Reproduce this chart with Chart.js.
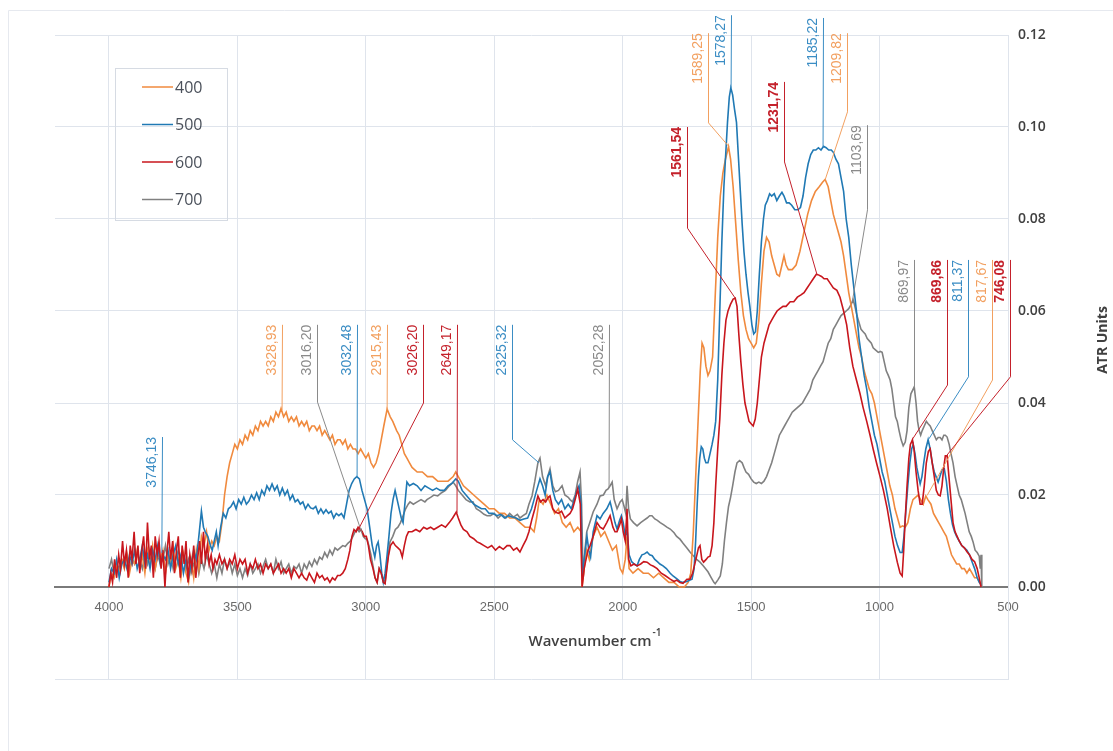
<!DOCTYPE html>
<html>
<head>
<meta charset="utf-8">
<script src="https://cdn.jsdelivr.net/npm/chart.js@4.4.0/dist/chart.umd.min.js"></script>
<style>
    html, body { margin: 0; padding: 0; background: #ffffff; }
    canvas { display: block; }
</style>
</head>
<body>
<canvas id="spectrumChart" width="1113" height="751"></canvas>
<script>
// wavenumber (cm-1), ATR units
const seriesNames = ['400', '500', '600', '700'];
const seriesColors = ['#F08A3E', '#2079B4', '#C8161D', '#808080'];
const xTicks = [4000, 3500, 3000, 2500, 2000, 1500, 1000, 500];
const yTicks = [0.00, 0.02, 0.04, 0.06, 0.08, 0.10, 0.12];

const s400 = [
    [4000,0.000],[3990,0.003],[3980,0.002],[3970,0.005],[3960,0.003],[3950,0.006],[3940,0.004],[3930,0.007],[3920,0.003],[3910,0.006],
    [3900,0.005],[3890,0.008],[3880,0.004],[3870,0.007],[3860,0.003],[3850,0.008],[3840,0.005],[3830,0.009],[3820,0.004],[3810,0.007],
    [3800,0.006],[3790,0.008],[3780,0.003],[3770,0.007],[3760,0.005],[3750,0.009],[3740,0.004],[3730,0.006],[3720,0.002],[3710,0.007],
    [3700,0.003],[3690,0.001],[3680,0.006],[3670,0.002],[3660,0.008],[3650,0.004],[3640,0.011],[3630,0.009],[3620,0.012],[3610,0.008],
    [3600,0.010],[3590,0.009],[3580,0.011],[3570,0.010],[3560,0.014],[3550,0.020],[3540,0.024],[3530,0.027],[3520,0.029],[3510,0.031],
    [3500,0.030],[3490,0.032],[3480,0.031],[3470,0.033],[3460,0.032],[3450,0.034],[3440,0.033],[3430,0.035],[3420,0.034],[3410,0.036],
    [3400,0.035],[3390,0.036],[3380,0.035],[3370,0.037],[3360,0.036],[3350,0.038],[3340,0.037],[3330,0.0388],[3320,0.037],[3310,0.038],
    [3300,0.036],[3290,0.037],[3280,0.036],[3270,0.037],[3260,0.035],[3250,0.036],[3240,0.035],[3230,0.036],[3220,0.034],[3210,0.035],
    [3200,0.035],[3190,0.034],[3180,0.035],[3170,0.033],[3160,0.034],[3150,0.033],[3140,0.032],[3130,0.033],[3120,0.031],[3110,0.032],
    [3100,0.032],[3090,0.031],[3080,0.032],[3070,0.030],[3060,0.031],[3050,0.030],[3040,0.030],[3030,0.029],[3020,0.030],[3010,0.029],
    [3000,0.028],[2990,0.029],[2980,0.027],[2970,0.026],[2960,0.027],[2950,0.029],[2940,0.032],[2930,0.035],[2917,0.0387],[2905,0.037],
    [2895,0.036],[2880,0.034],[2870,0.033],[2860,0.031],[2850,0.029],[2840,0.028],[2830,0.027],[2820,0.026],[2800,0.025],[2780,0.025],
    [2760,0.024],[2740,0.024],[2720,0.023],[2700,0.023],[2680,0.023],[2660,0.024],[2650,0.025],[2640,0.024],[2620,0.022],[2600,0.021],
    [2580,0.020],[2560,0.019],[2540,0.018],[2520,0.017],[2500,0.017],[2480,0.016],[2460,0.016],[2440,0.015],[2420,0.015],[2400,0.014],
    [2380,0.013],[2360,0.013],[2345,0.012],[2335,0.015],[2325,0.019],[2310,0.018],[2295,0.020],[2280,0.018],[2265,0.016],[2250,0.017],
    [2235,0.014],[2220,0.013],[2205,0.014],[2190,0.012],[2175,0.013],[2162,0.012],[2158,0.000],[2150,0.004],[2140,0.008],[2130,0.006],
    [2115,0.011],[2100,0.013],[2085,0.011],[2070,0.012],[2055,0.010],[2040,0.008],[2025,0.009],[2010,0.004],[2000,0.003],[1990,0.006],
    [1983,0.011],[1975,0.004],[1960,0.003],[1940,0.004],[1920,0.003],[1900,0.003],[1880,0.002],[1860,0.003],[1840,0.002],[1820,0.001],
    [1800,0.001],[1780,0.000],[1760,0.000],[1745,0.001],[1735,0.003],[1725,0.012],[1715,0.025],[1705,0.038],[1698,0.047],[1691,0.053],
    [1684,0.052],[1676,0.048],[1668,0.046],[1660,0.047],[1650,0.050],[1640,0.063],[1630,0.076],[1620,0.085],[1610,0.090],[1600,0.093],
    [1588,0.0957],[1580,0.093],[1570,0.087],[1560,0.079],[1550,0.071],[1540,0.064],[1530,0.059],[1520,0.056],[1510,0.054],[1500,0.053],
    [1490,0.052],[1480,0.053],[1470,0.058],[1460,0.066],[1450,0.073],[1440,0.076],[1430,0.075],[1420,0.072],[1410,0.070],[1400,0.068],
    [1390,0.0676],[1380,0.070],[1372,0.072],[1364,0.070],[1355,0.069],[1340,0.069],[1325,0.070],[1310,0.073],[1295,0.077],[1280,0.081],
    [1265,0.084],[1250,0.086],[1235,0.087],[1222,0.088],[1212,0.0886],[1200,0.087],[1190,0.084],[1180,0.081],[1170,0.079],[1160,0.077],
    [1150,0.075],[1140,0.072],[1130,0.068],[1120,0.064],[1110,0.061],[1100,0.058],[1090,0.055],[1080,0.052],[1070,0.050],[1060,0.047],
    [1050,0.045],[1040,0.043],[1030,0.042],[1020,0.040],[1010,0.037],[1000,0.034],[990,0.031],[980,0.028],[970,0.025],[960,0.022],
    [950,0.020],[940,0.017],[930,0.015],[920,0.013],[910,0.0133],[900,0.013],[890,0.014],[880,0.017],[870,0.019],[860,0.0195],
    [850,0.020],[840,0.019],[830,0.018],[820,0.0198],[812,0.019],[800,0.018],[790,0.016],[780,0.015],[770,0.014],[760,0.013],
    [750,0.012],[740,0.011],[730,0.009],[720,0.007],[710,0.006],[700,0.005],[690,0.005],[680,0.004],[670,0.004],[660,0.003],
    [650,0.004],[640,0.003],[630,0.002],[620,0.002],[610,0.001]
];

const s500 = [
    [4000,0.001],[3990,0.004],[3980,0.003],[3970,0.006],[3960,0.002],[3950,0.005],[3940,0.006],[3930,0.004],[3920,0.007],[3910,0.005],
    [3900,0.008],[3890,0.004],[3880,0.006],[3870,0.009],[3860,0.005],[3850,0.007],[3840,0.004],[3830,0.008],[3820,0.006],[3810,0.009],
    [3800,0.005],[3790,0.007],[3780,0.006],[3770,0.008],[3760,0.004],[3750,0.007],[3740,0.009],[3730,0.005],[3720,0.007],[3710,0.003],
    [3700,0.006],[3690,0.002],[3680,0.005],[3670,0.008],[3660,0.006],[3650,0.011],[3640,0.0165],[3632,0.013],[3625,0.012],[3615,0.011],
    [3605,0.009],[3598,0.008],[3590,0.010],[3582,0.012],[3575,0.009],[3565,0.013],[3555,0.016],[3545,0.015],[3535,0.017],[3525,0.0175],
    [3515,0.0185],[3505,0.017],[3495,0.019],[3485,0.018],[3475,0.0195],[3465,0.018],[3455,0.0187],[3445,0.020],[3435,0.019],[3425,0.0205],
    [3415,0.019],[3405,0.021],[3395,0.020],[3385,0.022],[3375,0.021],[3365,0.0224],[3355,0.021],[3345,0.022],[3335,0.020],[3325,0.0215],
    [3315,0.020],[3305,0.021],[3295,0.019],[3285,0.020],[3275,0.0185],[3265,0.019],[3255,0.018],[3245,0.0185],[3235,0.017],[3225,0.018],
    [3215,0.0172],[3205,0.017],[3195,0.0175],[3185,0.016],[3175,0.017],[3165,0.016],[3155,0.0168],[3145,0.016],[3135,0.0165],[3125,0.015],
    [3115,0.016],[3105,0.0155],[3095,0.016],[3085,0.015],[3075,0.018],[3065,0.021],[3055,0.0225],[3045,0.0235],[3035,0.024],[3025,0.0235],
    [3015,0.021],[3005,0.019],[2995,0.017],[2985,0.013],[2975,0.009],[2965,0.0065],[2958,0.009],[2952,0.0098],[2945,0.007],[2938,0.003],
    [2932,0.001],[2925,0.003],[2918,0.0065],[2910,0.011],[2902,0.016],[2894,0.019],[2886,0.021],[2878,0.019],[2870,0.017],[2862,0.015],
    [2855,0.014],[2848,0.018],[2840,0.0228],[2830,0.022],[2815,0.0225],[2800,0.022],[2785,0.021],[2770,0.022],[2755,0.0215],[2740,0.021],
    [2725,0.0215],[2710,0.021],[2695,0.021],[2680,0.022],[2665,0.0225],[2650,0.0235],[2640,0.023],[2625,0.021],[2610,0.020],[2595,0.019],
    [2580,0.018],[2565,0.0175],[2550,0.017],[2535,0.017],[2520,0.016],[2505,0.016],[2490,0.0155],[2475,0.0158],[2460,0.015],[2445,0.0155],
    [2430,0.0152],[2415,0.015],[2400,0.0145],[2385,0.0148],[2370,0.015],[2355,0.017],[2345,0.019],[2335,0.021],[2322,0.0235],[2312,0.022],
    [2302,0.020],[2292,0.024],[2283,0.025],[2272,0.021],[2262,0.019],[2250,0.018],[2238,0.019],[2225,0.017],[2212,0.018],[2200,0.017],
    [2188,0.019],[2178,0.021],[2170,0.022],[2162,0.018],[2158,0.0025],[2150,0.006],[2139,0.011],[2132,0.008],[2125,0.0065],[2115,0.012],
    [2100,0.0155],[2088,0.0148],[2076,0.016],[2062,0.017],[2049,0.0185],[2038,0.016],[2030,0.014],[2022,0.0126],[2012,0.0145],[2005,0.0155],
    [1998,0.014],[1990,0.011],[1983,0.0125],[1975,0.007],[1965,0.0055],[1955,0.005],[1944,0.0046],[1935,0.006],[1925,0.007],[1915,0.0072],
    [1905,0.0076],[1895,0.007],[1885,0.0068],[1875,0.006],[1865,0.0055],[1855,0.005],[1843,0.0046],[1830,0.004],[1815,0.003],[1804,0.0024],
    [1790,0.0018],[1777,0.0012],[1765,0.001],[1750,0.0012],[1738,0.0015],[1730,0.0017],[1722,0.004],[1716,0.010],[1710,0.018],[1705,0.024],
    [1700,0.028],[1694,0.0305],[1688,0.030],[1682,0.028],[1676,0.027],[1668,0.027],[1660,0.029],[1652,0.031],[1645,0.033],[1638,0.036],
    [1630,0.045],[1622,0.060],[1614,0.075],[1606,0.087],[1600,0.093],[1592,0.101],[1585,0.1065],[1579,0.1085],[1572,0.107],[1565,0.104],
    [1557,0.101],[1550,0.094],[1542,0.086],[1535,0.079],[1528,0.073],[1520,0.068],[1512,0.064],[1505,0.061],[1497,0.057],[1490,0.055],
    [1483,0.0555],[1476,0.060],[1468,0.068],[1460,0.075],[1452,0.080],[1445,0.083],[1437,0.084],[1428,0.0855],[1420,0.085],[1410,0.0855],
    [1400,0.084],[1390,0.085],[1380,0.0858],[1372,0.085],[1362,0.0835],[1352,0.0835],[1342,0.083],[1330,0.082],[1318,0.082],[1308,0.0825],
    [1298,0.085],[1288,0.089],[1278,0.092],[1268,0.094],[1258,0.095],[1248,0.095],[1238,0.0955],[1228,0.095],[1218,0.0958],[1208,0.0955],
    [1198,0.095],[1188,0.095],[1180,0.0945],[1170,0.093],[1160,0.092],[1150,0.089],[1140,0.086],[1130,0.080],[1120,0.076],[1110,0.070],
    [1100,0.065],[1090,0.060],[1080,0.054],[1070,0.050],[1060,0.046],[1050,0.043],[1040,0.039],[1030,0.036],[1020,0.033],[1010,0.031],
    [1000,0.028],[990,0.025],[980,0.023],[970,0.020],[960,0.017],[950,0.014],[940,0.011],[930,0.009],[920,0.0075],[912,0.0075],
    [905,0.011],[897,0.017],[890,0.022],[882,0.027],[875,0.030],[869,0.031],[862,0.029],[855,0.026],[848,0.024],[842,0.0224],
    [835,0.024],[828,0.027],[820,0.030],[811,0.032],[803,0.030],[795,0.027],[787,0.025],[780,0.024],[772,0.0228],[765,0.024],
    [757,0.0255],[748,0.0257],[740,0.023],[732,0.019],[724,0.016],[716,0.0135],[708,0.012],[700,0.011],[690,0.010],[680,0.009],
    [670,0.0085],[660,0.008],[650,0.007],[640,0.0055],[630,0.004],[620,0.002],[612,0.001],[605,0.0005]
];

const s600 = [
    [4000,0.000],[3993,0.003],[3986,0.001],[3978,0.006],[3970,0.002],[3962,0.007],[3955,0.004],[3947,0.010],[3940,0.005],[3932,0.008],
    [3925,0.002],[3917,0.009],[3910,0.006],[3902,0.012],[3895,0.005],[3887,0.009],[3880,0.003],[3872,0.008],[3865,0.011],[3857,0.004],
    [3850,0.014],[3842,0.006],[3835,0.009],[3827,0.002],[3820,0.011],[3812,0.007],[3805,0.010],[3797,0.004],[3790,0.008],[3782,0.000],
    [3775,0.007],[3767,0.012],[3760,0.006],[3752,0.010],[3745,0.003],[3737,0.008],[3730,0.011],[3722,0.002],[3715,0.009],[3707,0.005],
    [3700,0.010],[3692,0.001],[3685,0.007],[3677,0.004],[3670,0.009],[3662,0.002],[3655,0.006],[3647,0.010],[3640,0.005],[3632,0.012],
    [3625,0.006],[3617,0.009],[3610,0.005],[3602,0.007],[3595,0.004],[3587,0.006],[3580,0.005],[3570,0.007],[3560,0.005],[3550,0.006],
    [3540,0.004],[3530,0.006],[3520,0.005],[3510,0.007],[3500,0.004],[3490,0.006],[3480,0.005],[3470,0.006],[3460,0.003],[3450,0.005],
    [3440,0.004],[3430,0.006],[3420,0.004],[3410,0.005],[3400,0.003],[3390,0.005],[3380,0.004],[3370,0.005],[3360,0.003],[3350,0.004],
    [3340,0.005],[3330,0.003],[3320,0.004],[3310,0.003],[3300,0.004],[3290,0.002],[3280,0.004],[3270,0.003],[3260,0.002],[3250,0.003],
    [3240,0.002],[3230,0.0015],[3220,0.003],[3210,0.002],[3200,0.001],[3190,0.003],[3180,0.002],[3170,0.0025],[3160,0.0015],[3150,0.002],
    [3140,0.001],[3130,0.002],[3120,0.0015],[3110,0.0025],[3100,0.0025],[3090,0.003],[3080,0.004],[3070,0.006],[3062,0.008],[3054,0.011],
    [3046,0.0125],[3038,0.012],[3030,0.013],[3022,0.0125],[3014,0.012],[3006,0.011],[2998,0.011],[2990,0.009],[2982,0.006],[2972,0.004],
    [2964,0.002],[2956,0.001],[2948,0.004],[2940,0.003],[2932,0.001],[2925,0.0007],[2918,0.004],[2912,0.0067],[2904,0.009],[2894,0.0098],
    [2885,0.009],[2875,0.0085],[2866,0.008],[2858,0.0065],[2850,0.009],[2842,0.011],[2834,0.012],[2820,0.012],[2805,0.0125],[2790,0.012],
    [2775,0.013],[2762,0.0126],[2748,0.013],[2735,0.0125],[2720,0.013],[2705,0.0135],[2690,0.013],[2675,0.014],[2662,0.015],[2648,0.0163],
    [2640,0.015],[2630,0.0135],[2620,0.0125],[2606,0.012],[2595,0.011],[2580,0.0105],[2567,0.0098],[2555,0.0095],[2540,0.009],[2525,0.0085],
    [2510,0.009],[2495,0.008],[2480,0.0088],[2465,0.0082],[2450,0.009],[2439,0.009],[2425,0.008],[2412,0.0085],[2400,0.0076],[2388,0.009],
    [2375,0.0104],[2365,0.012],[2353,0.0148],[2342,0.017],[2330,0.0198],[2320,0.0185],[2310,0.019],[2300,0.0185],[2290,0.0195],[2283,0.0198],
    [2272,0.017],[2262,0.0163],[2250,0.016],[2238,0.0165],[2225,0.015],[2215,0.0155],[2205,0.016],[2195,0.017],[2185,0.019],[2175,0.0213],
    [2165,0.018],[2158,0.000],[2150,0.004],[2145,0.0054],[2135,0.008],[2127,0.009],[2115,0.011],[2100,0.014],[2088,0.013],[2076,0.0126],
    [2062,0.014],[2049,0.0155],[2038,0.013],[2030,0.012],[2022,0.012],[2012,0.0135],[2005,0.0148],[1998,0.012],[1990,0.010],[1983,0.017],
    [1977,0.006],[1968,0.0046],[1956,0.005],[1944,0.0046],[1930,0.005],[1918,0.0055],[1905,0.0054],[1892,0.0048],[1880,0.0045],[1866,0.004],
    [1850,0.003],[1835,0.0025],[1815,0.0017],[1800,0.0012],[1790,0.0015],[1777,0.001],[1765,0.0008],[1750,0.0017],[1738,0.0017],[1728,0.003],
    [1715,0.006],[1705,0.0085],[1699,0.009],[1692,0.006],[1685,0.0054],[1675,0.006],[1668,0.0065],[1660,0.0067],[1652,0.009],[1645,0.014],
    [1638,0.022],[1630,0.030],[1622,0.0365],[1614,0.046],[1606,0.053],[1598,0.058],[1590,0.060],[1580,0.0615],[1570,0.0626],[1562,0.0628],
    [1555,0.061],[1548,0.055],[1540,0.049],[1532,0.044],[1524,0.040],[1516,0.038],[1508,0.036],[1500,0.0355],[1492,0.035],[1484,0.0365],
    [1476,0.040],[1468,0.045],[1460,0.050],[1450,0.053],[1440,0.055],[1430,0.057],[1420,0.058],[1410,0.059],[1399,0.060],[1388,0.0605],
    [1376,0.061],[1364,0.061],[1348,0.062],[1334,0.062],[1320,0.063],[1306,0.0635],[1294,0.064],[1282,0.065],[1270,0.066],[1258,0.067],
    [1246,0.068],[1236,0.0678],[1226,0.0675],[1216,0.067],[1204,0.067],[1192,0.066],[1180,0.065],[1166,0.0645],[1154,0.063],[1140,0.060],
    [1128,0.057],[1116,0.052],[1104,0.048],[1090,0.045],[1076,0.042],[1064,0.039],[1050,0.036],[1037,0.033],[1025,0.030],[1012,0.027],
    [998,0.024],[985,0.021],[970,0.017],[958,0.013],[945,0.009],[931,0.0054],[920,0.003],[912,0.0024],[906,0.008],[900,0.015],
    [893,0.022],[886,0.028],[880,0.031],[872,0.032],[866,0.030],[858,0.025],[850,0.021],[842,0.018],[834,0.018],[826,0.022],
    [818,0.027],[810,0.0295],[803,0.030],[795,0.027],[787,0.024],[779,0.021],[771,0.020],[764,0.0198],[757,0.022],[750,0.026],
    [744,0.0285],[737,0.0285],[730,0.024],[722,0.019],[714,0.014],[706,0.012],[698,0.011],[690,0.010],[680,0.009],[670,0.0085],
    [659,0.0076],[650,0.007],[640,0.006],[630,0.0055],[620,0.004],[612,0.002],[605,0.000]
];

const s700 = [
    [4000,0.004],[3990,0.006],[3980,0.003],[3970,0.005],[3960,0.004],[3950,0.006],[3940,0.005],[3930,0.007],[3920,0.004],[3910,0.006],
    [3900,0.005],[3890,0.007],[3880,0.006],[3870,0.004],[3860,0.007],[3850,0.005],[3840,0.008],[3830,0.006],[3820,0.004],[3810,0.007],
    [3800,0.005],[3790,0.006],[3780,0.009],[3770,0.005],[3760,0.007],[3750,0.004],[3740,0.006],[3730,0.008],[3720,0.005],[3710,0.007],
    [3700,0.004],[3690,0.006],[3680,0.003],[3670,0.005],[3660,0.007],[3650,0.003],[3640,0.006],[3630,0.004],[3620,0.007],[3610,0.005],
    [3600,0.003],[3590,0.005],[3580,0.002],[3570,0.005],[3560,0.003],[3550,0.006],[3540,0.004],[3530,0.0055],[3520,0.003],[3510,0.005],
    [3500,0.0025],[3490,0.004],[3480,0.002],[3470,0.004],[3460,0.0025],[3450,0.005],[3440,0.003],[3430,0.004],[3420,0.005],[3410,0.003],
    [3400,0.0045],[3390,0.006],[3380,0.004],[3370,0.005],[3360,0.003],[3350,0.006],[3340,0.004],[3330,0.0055],[3320,0.003],[3310,0.004],
    [3300,0.005],[3290,0.003],[3280,0.0045],[3270,0.004],[3260,0.005],[3250,0.003],[3240,0.005],[3230,0.004],[3220,0.0055],[3210,0.0045],
    [3200,0.006],[3190,0.005],[3180,0.0065],[3170,0.006],[3160,0.0075],[3150,0.0065],[3140,0.008],[3130,0.007],[3120,0.0085],[3110,0.008],
    [3100,0.0085],[3090,0.009],[3080,0.0088],[3070,0.0095],[3060,0.010],[3050,0.011],[3042,0.012],[3034,0.0126],[3026,0.012],[3018,0.0125],
    [3010,0.011],[3002,0.0105],[2995,0.0104],[2988,0.009],[2980,0.007],[2972,0.0046],[2964,0.002],[2956,0.001],[2948,0.004],[2940,0.003],
    [2932,0.0015],[2925,0.001],[2917,0.005],[2906,0.0098],[2895,0.011],[2885,0.0125],[2875,0.013],[2865,0.014],[2855,0.0155],[2845,0.017],
    [2835,0.018],[2828,0.0185],[2815,0.018],[2800,0.0185],[2785,0.019],[2770,0.0185],[2762,0.019],[2748,0.0195],[2735,0.020],[2720,0.0198],
    [2705,0.0205],[2690,0.021],[2675,0.022],[2660,0.0228],[2650,0.022],[2640,0.021],[2625,0.020],[2610,0.019],[2595,0.0185],[2583,0.0185],
    [2570,0.017],[2555,0.0165],[2540,0.0158],[2528,0.0155],[2515,0.0155],[2500,0.016],[2485,0.015],[2470,0.0158],[2455,0.015],[2440,0.016],
    [2425,0.0152],[2410,0.0158],[2400,0.015],[2388,0.0155],[2375,0.016],[2365,0.018],[2353,0.0198],[2342,0.023],[2330,0.027],[2322,0.028],
    [2312,0.024],[2300,0.022],[2292,0.024],[2283,0.0257],[2272,0.022],[2262,0.0207],[2250,0.021],[2236,0.022],[2225,0.020],[2212,0.0195],
    [2205,0.019],[2195,0.0185],[2185,0.020],[2175,0.023],[2166,0.025],[2160,0.018],[2154,0.0017],[2147,0.008],[2140,0.012],[2128,0.014],
    [2115,0.0163],[2100,0.018],[2088,0.0198],[2075,0.020],[2065,0.021],[2057,0.0213],[2049,0.022],[2041,0.0228],[2033,0.019],[2022,0.017],
    [2010,0.0185],[2002,0.019],[1995,0.0176],[1988,0.016],[1983,0.022],[1977,0.017],[1970,0.0148],[1958,0.014],[1944,0.0133],[1930,0.014],
    [1918,0.0145],[1905,0.015],[1895,0.0155],[1886,0.0155],[1875,0.0148],[1865,0.0145],[1854,0.014],[1840,0.0135],[1828,0.013],[1815,0.0126],
    [1800,0.0118],[1790,0.011],[1777,0.0104],[1765,0.0095],[1750,0.0085],[1738,0.0076],[1725,0.0068],[1712,0.006],[1699,0.0054],[1685,0.0045],
    [1668,0.0033],[1655,0.002],[1645,0.001],[1640,0.0007],[1630,0.0015],[1620,0.0024],[1612,0.005],[1604,0.010],[1596,0.014],[1588,0.0175],
    [1580,0.0195],[1572,0.022],[1563,0.025],[1555,0.027],[1545,0.0275],[1535,0.027],[1528,0.026],[1520,0.025],[1510,0.0245],[1500,0.0235],
    [1490,0.0228],[1480,0.0225],[1470,0.0228],[1460,0.0225],[1450,0.023],[1440,0.024],[1430,0.0255],[1420,0.027],[1410,0.029],[1400,0.031],
    [1390,0.033],[1380,0.034],[1370,0.035],[1360,0.036],[1350,0.037],[1340,0.038],[1330,0.0385],[1320,0.039],[1310,0.0395],[1300,0.040],
    [1290,0.041],[1280,0.042],[1270,0.043],[1260,0.045],[1250,0.046],[1240,0.047],[1230,0.048],[1220,0.049],[1210,0.051],[1200,0.053],
    [1190,0.054],[1180,0.056],[1170,0.057],[1160,0.058],[1150,0.059],[1140,0.0595],[1130,0.060],[1120,0.0605],[1110,0.0615],[1103,0.0625],
    [1096,0.061],[1088,0.059],[1080,0.0575],[1072,0.056],[1064,0.0555],[1056,0.055],[1048,0.054],[1040,0.0535],[1032,0.053],[1025,0.052],
    [1015,0.0515],[1005,0.051],[997,0.0512],[990,0.051],[982,0.049],[974,0.047],[966,0.046],[959,0.045],[952,0.043],[945,0.040],
    [938,0.037],[931,0.036],[924,0.034],[916,0.032],[908,0.0307],[900,0.0315],[893,0.034],[886,0.039],[878,0.042],[865,0.0435],
    [858,0.040],[852,0.036],[846,0.034],[840,0.033],[834,0.034],[826,0.035],[818,0.036],[811,0.0355],[803,0.035],[795,0.034],
    [787,0.033],[779,0.032],[772,0.0325],[764,0.0325],[757,0.032],[750,0.033],[744,0.033],[737,0.0326],[729,0.031],[722,0.029],
    [714,0.027],[706,0.024],[698,0.022],[690,0.020],[682,0.019],[675,0.0176],[667,0.016],[659,0.014],[651,0.012],[643,0.011],
    [636,0.0098],[628,0.008],[620,0.0075],[612,0.0067],[608,0.004],[605,0.007],[602,0.000]
];

// peak labels: text, series index, x of the leader line, top of the line, bend (null = straight), touching point
const peakLabels = [
    { text: '3746,13', s: 1, lineX: 3794, top: 0.0326, bend: null, at: [3794, 0.0074] },
    { text: '3328,93', s: 0, lineX: 3326, top: 0.0570, bend: null, at: [3326, 0.0385] },
    { text: '3016,20', s: 3, lineX: 3190, top: 0.0570, bend: 0.0402, at: [3015, 0.0117] },
    { text: '3032,48', s: 1, lineX: 3034, top: 0.0570, bend: null, at: [3034, 0.0239] },
    { text: '2915,43', s: 0, lineX: 2917, top: 0.0570, bend: null, at: [2917, 0.0385] },
    { text: '3026,20', s: 2, lineX: 2777, top: 0.0570, bend: 0.0400, at: [3030, 0.0124] },
    { text: '2649,17', s: 2, lineX: 2645, top: 0.0570, bend: null, at: [2645, 0.0161] },
    { text: '2325,32', s: 1, lineX: 2431, top: 0.0570, bend: 0.0320, at: [2326, 0.0270] },
    { text: '2052,28', s: 3, lineX: 2053, top: 0.0570, bend: null, at: [2053, 0.0217] },
    { text: '1589,25', s: 0, lineX: 1668, top: 0.1204, bend: 0.1009, at: [1586, 0.0957] },
    { text: '1578,27', s: 1, lineX: 1578, top: 0.1243, bend: null, at: [1578, 0.1085] },
    { text: '1561,54', s: 2, lineX: 1749, top: 0.1000, bend: 0.0780, at: [1562, 0.0628], bold: true },
    { text: '1231,74', s: 2, lineX: 1372, top: 0.1098, bend: 0.0924, at: [1243, 0.0678], bold: true },
    { text: '1185,22', s: 1, lineX: 1220, top: 0.1237, bend: null, at: [1220, 0.0957] },
    { text: '1209,82', s: 0, lineX: 1126, top: 0.1204, bend: 0.1033, at: [1212, 0.0885] },
    { text: '1103,69', s: 3, lineX: 1048, top: 0.1004, bend: 0.0820, at: [1105, 0.0624] },
    { text: '869,97', s: 3, lineX: 864, top: 0.0711, bend: null, at: [864, 0.0433] },
    { text: '869,86', s: 2, lineX: 737, top: 0.0711, bend: 0.0439, at: [871, 0.0322], bold: true },
    { text: '811,37', s: 1, lineX: 655, top: 0.0711, bend: 0.0457, at: [808, 0.0322] },
    { text: '817,67', s: 0, lineX: 562, top: 0.0711, bend: 0.0450, at: [815, 0.0199] },
    { text: '746,08', s: 2, lineX: 492, top: 0.0711, bend: 0.0457, at: [740, 0.0285], bold: true }
];
const labelColors = ['#F2A060', '#3B8DC4', '#C4212B', '#8A8A8A'];

const GRID = '#dfe4ec';

function toPoints(pairs) {
    return pairs.map(p => ({ x: p[0], y: p[1] }));
}

// frame, legend, peak labels and axis titles
const decorPlugin = {
    id: 'decor',
    beforeDraw(chart) {
        const ctx = chart.ctx;
        ctx.save();
        ctx.strokeStyle = '#e6e9ef';
        ctx.lineWidth = 1;
        ctx.beginPath();
        ctx.moveTo(8.5, 751);
        ctx.lineTo(8.5, 10.5);
        ctx.lineTo(1113, 10.5);
        ctx.stroke();
        ctx.restore();
    },
    afterDatasetsDraw(chart) {
        const ctx = chart.ctx;
        const xs = chart.scales.x;
        const ys = chart.scales.y;
        ctx.save();
        peakLabels.forEach(lb => {
            const color = labelColors[lb.s];
            const lx = Math.round(xs.getPixelForValue(lb.lineX)) + 0.5;
            const ty = ys.getPixelForValue(lb.top);
            const px = xs.getPixelForValue(lb.at[0]);
            const py = ys.getPixelForValue(lb.at[1]);
            ctx.strokeStyle = color;
            ctx.lineWidth = 1;
            ctx.beginPath();
            ctx.moveTo(lx, ty);
            if (lb.bend !== null) {
                ctx.lineTo(lx, ys.getPixelForValue(lb.bend));
            }
            ctx.lineTo(px, py);
            ctx.stroke();

            ctx.save();
            ctx.translate(lx - 3, ty);
            ctx.rotate(-Math.PI / 2);
            ctx.fillStyle = color;
            ctx.font = (lb.bold ? 'bold ' : '') + '14px "Liberation Sans", Arial, sans-serif';
            ctx.textAlign = 'right';
            ctx.textBaseline = 'bottom';
            ctx.fillText(lb.text, 0, 0);
            ctx.restore();
        });

        // legend box
        ctx.strokeStyle = '#d6dbe3';
        ctx.lineWidth = 1;
        ctx.strokeRect(115.5, 68.5, 112, 152);
        ctx.font = '16px "Open Sans", sans-serif';
        ctx.textAlign = 'left';
        ctx.textBaseline = 'middle';
        seriesNames.forEach((name, i) => {
            const yy = 87 + i * 37.5;
            ctx.strokeStyle = seriesColors[i];
            ctx.lineWidth = 1.5;
            ctx.beginPath();
            ctx.moveTo(142, yy);
            ctx.lineTo(173, yy);
            ctx.stroke();
            ctx.fillStyle = '#4a505a';
            ctx.fillText(name, 175, yy + 1);
        });
        ctx.restore();
    },
    afterDraw(chart) {
        const ctx = chart.ctx;
        ctx.save();
        ctx.fillStyle = '#404040';
        ctx.font = '600 15px "Open Sans", sans-serif';
        ctx.textBaseline = 'alphabetic';
        ctx.textAlign = 'left';
        const main = 'Wavenumber cm';
        const w = ctx.measureText(main).width;
        const x0 = 590 - w / 2;
        ctx.fillText(main, x0, 646);
        ctx.font = '600 10px "Open Sans", sans-serif';
        ctx.fillText('-1', x0 + w + 1, 636);

        ctx.translate(1110, 340);
        ctx.rotate(-Math.PI / 2);
        ctx.font = 'bold 14px "Open Sans", sans-serif';
        ctx.textAlign = 'center';
        ctx.textBaseline = 'bottom';
        ctx.fillText('ATR Units', 0, 0);
        ctx.restore();
    }
};

const seriesData = [s400, s500, s600, s700];
const drawOrder = [2, 1, 0, 3];

const chart = new Chart(document.getElementById('spectrumChart').getContext('2d'), {
    type: 'line',
    data: {
        datasets: seriesData.map((s, i) => ({
            label: seriesNames[i],
            data: toPoints(s),
            borderColor: seriesColors[i],
            borderWidth: 1.6,
            pointRadius: 0,
            tension: 0,
            fill: false,
            order: drawOrder[i]
        }))
    },
    options: {
        responsive: false,
        animation: false,
        devicePixelRatio: 1,
        layout: { padding: { left: 55, top: 35, bottom: 72, right: 0 } },
        plugins: {
            legend: { display: false },
            tooltip: { enabled: false }
        },
        scales: {
            x: {
                type: 'linear',
                reverse: true,
                min: 500,
                max: 4210,
                position: { y: 0 },
                afterBuildTicks: axis => { axis.ticks = xTicks.map(v => ({ value: v })); },
                grid: { color: GRID, drawTicks: false },
                border: { color: '#7a7a7a', width: 2 },
                ticks: {
                    padding: 13,
                    color: '#6a6a6a',
                    font: { family: '"Liberation Sans", Arial, sans-serif', size: 13 },
                    maxRotation: 0,
                    callback: v => String(v)
                }
            },
            y: {
                position: 'right',
                min: -0.02,
                max: 0.12,
                afterBuildTicks: axis => { axis.ticks = [-0.02].concat(yTicks).map(v => ({ value: v })); },
                afterFit: axis => { axis.width = 105; },
                grid: { color: GRID, drawTicks: false },
                border: { color: GRID },
                ticks: {
                    padding: 10,
                    color: '#404040',
                    font: { family: '"Open Sans", sans-serif', size: 14, weight: '600' },
                    callback: v => (v < -0.001 ? '' : v.toFixed(2))
                }
            }
        }
    },
    plugins: [decorPlugin]
});
</script>
</body>
</html>
